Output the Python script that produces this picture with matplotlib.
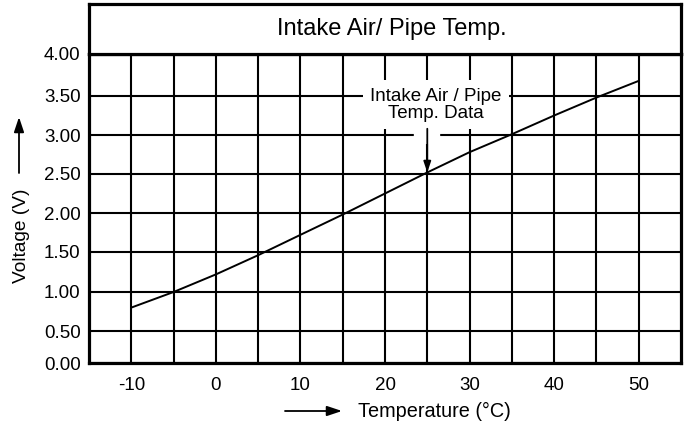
import numpy as np
import matplotlib
matplotlib.use('Agg')
import matplotlib.pyplot as plt

plt.rcParams['font.family'] = ['Liberation Sans', 'DejaVu Sans']

# sensor curve
temp = [-10, -5, 0, 5, 10, 15, 20, 25, 30, 35, 40, 45, 50]
volts = [0.80, 1.00, 1.22, 1.46, 1.72, 1.98, 2.25, 2.52, 2.78, 3.01, 3.25, 3.48, 3.68]

xticks = [-10, -5, 0, 5, 10, 15, 20, 25, 30, 35, 40, 45, 50]
xlabels = ['-10', '', '0', '', '10', '', '20', '', '30', '', '40', '', '50']
yticks = [0.0, 0.5, 1.0, 1.5, 2.0, 2.5, 3.0, 3.5, 4.0]
ylabels = ['0.00', '0.50', '1.00', '1.50', '2.00', '2.50', '3.00', '3.50', '4.00']

# the printed grid is not quite even, bottom row is squashed
ygrid_pos = [0, 32, 71, 111, 150, 189, 228, 267, 309]

def fwd(v):
    return np.interp(v, yticks, ygrid_pos, left=-1e9, right=1e9)

def inv(p):
    return np.interp(p, ygrid_pos, yticks)

W, H = 685, 425
fig = plt.figure(figsize=(W / 100, H / 100), dpi=100)

L, R = 89, 681
top_box, grid_top, bottom = 4, 54, 363
ax = fig.add_axes([L / W, (H - bottom) / H, (R - L) / W, (bottom - grid_top) / H])
tax = fig.add_axes([L / W, (H - grid_top) / H, (R - L) / W, (grid_top - top_box) / H])

ax.set_yscale('function', functions=(fwd, inv))
ax.plot(temp, volts, color='black', lw=1.4, zorder=2.2)
ax.set_xlim(-15, 55)
ax.set_ylim(0, 4)
ax.set_xticks(xticks)
ax.set_xticklabels(xlabels)
ax.set_yticks(yticks)
ax.set_yticklabels(ylabels)
ax.yaxis.set_minor_locator(matplotlib.ticker.NullLocator())
ax.tick_params(axis='both', length=0, labelsize=13.5)
ax.tick_params(axis='x', pad=10)
ax.tick_params(axis='y', pad=6)
ax.grid(True, color='black', lw=1.5)
for s in ax.spines.values():
    s.set_linewidth(2.3)

# callout: label box, white gap on the 3.00 line, arrow down to the curve
ax.plot([25, 25], [2.88, 3.12], color='white', lw=19, solid_capstyle='butt', zorder=2)
ax.text(26.0, 3.385, 'Intake Air / Pipe\nTemp. Data', ha='center', va='center',
        fontsize=13.5, linespacing=1.0, zorder=3,
        bbox=dict(boxstyle='square,pad=0.4', fc='white', ec='none'))
ax.annotate('', xy=(25, 2.52), xytext=(25, 3.08), zorder=3,
            arrowprops=dict(arrowstyle='-|>,head_length=0.65,head_width=0.22',
                            color='black', lw=1.3, shrinkA=0, shrinkB=0))

tax.set_xticks([])
tax.set_yticks([])
for s in tax.spines.values():
    s.set_linewidth(2.3)
tax.text(0.512, 0.5, 'Intake Air/ Pipe Temp.', transform=tax.transAxes,
         ha='center', va='center', fontsize=17)

# axis titles with their arrows
fig.text(22 / W, (H - 236) / H, 'Voltage (V)', rotation=90, ha='center', va='center', fontsize=13.8)
ax.annotate('', xy=(19, H - 117), xytext=(19, H - 173), xycoords='figure pixels',
            arrowprops=dict(arrowstyle='-|>,head_length=0.9,head_width=0.3', color='black', lw=1.3,
                            shrinkA=0, shrinkB=0))
fig.text(434 / W, (H - 411) / H, 'Temperature (°C)', ha='center', va='center', fontsize=14.3)
ax.annotate('', xy=(342, H - 411), xytext=(285, H - 411), xycoords='figure pixels',
            arrowprops=dict(arrowstyle='-|>,head_length=0.9,head_width=0.3', color='black', lw=1.3,
                            shrinkA=0, shrinkB=0))

fig.savefig('out.png', dpi=100)
